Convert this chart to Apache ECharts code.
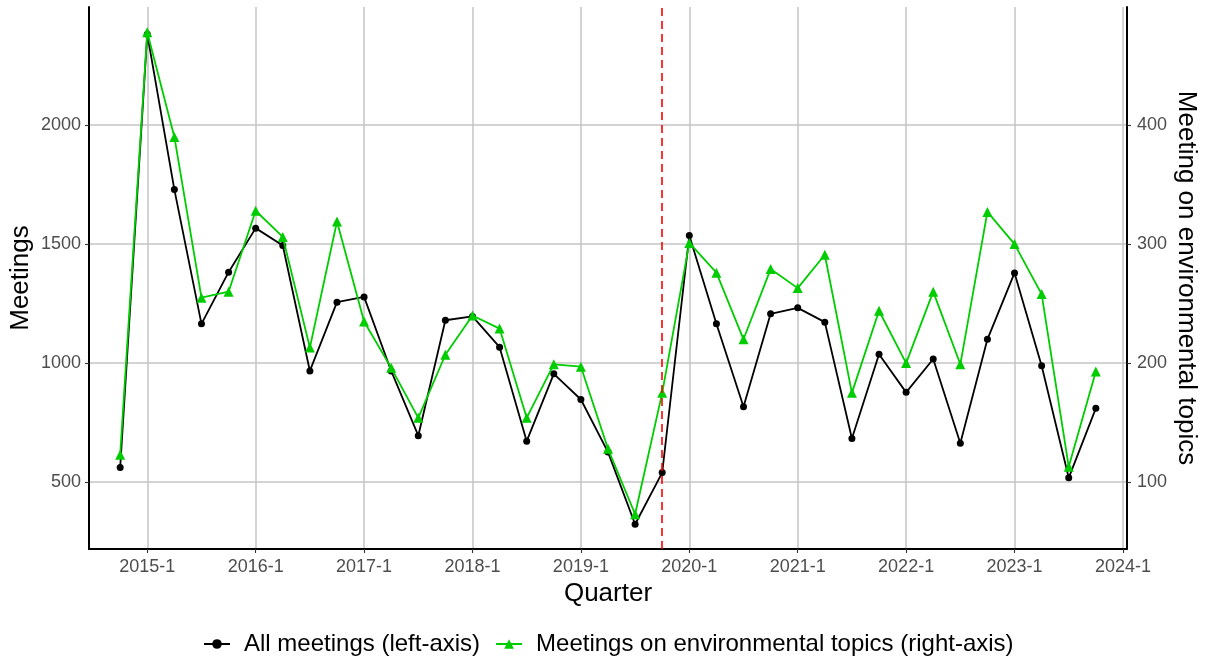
<!DOCTYPE html>
<html>
<head>
<meta charset="utf-8">
<script src="https://cdn.jsdelivr.net/npm/echarts@6/dist/echarts.min.js"></script>
<style>
  html, body { margin: 0; padding: 0; background: #ffffff; }
  #chart { width: 1209px; height: 662px; }
</style>
</head>
<body>
<div id="chart"></div>
<script>
// Quarterly meeting counts
const quarters = [
  '2014-4',
  '2015-1', '2015-2', '2015-3', '2015-4',
  '2016-1', '2016-2', '2016-3', '2016-4',
  '2017-1', '2017-2', '2017-3', '2017-4',
  '2018-1', '2018-2', '2018-3', '2018-4',
  '2019-1', '2019-2', '2019-3', '2019-4',
  '2020-1', '2020-2', '2020-3', '2020-4',
  '2021-1', '2021-2', '2021-3', '2021-4',
  '2022-1', '2022-2', '2022-3', '2022-4',
  '2023-1', '2023-2', '2023-3', '2023-4'
];

// All meetings (left axis)
const allMeetings = [
  561,
  2382, 1729, 1165, 1382,
  1567, 1494, 967, 1256,
  1278, 967, 695, 1180,
  1196, 1067, 672, 955,
  847, 626, 323, 540,
  1536, 1165, 817, 1207,
  1232, 1172, 683, 1037,
  877, 1017, 663, 1100,
  1379, 989, 518, 810
];

// Meetings on environmental topics (right axis)
const envMeetings = [
  123,
  478, 390, 255, 260,
  328, 306, 213, 319,
  235, 196, 154, 207,
  240, 229, 154, 199,
  197, 128, 73, 175,
  301, 276, 220, 279,
  263, 291, 175, 244,
  200, 260, 199, 327,
  300, 258, 113, 193
];

const xTickLabels = ['2015-1', '2016-1', '2017-1', '2018-1', '2019-1',
                     '2020-1', '2021-1', '2022-1', '2023-1', '2024-1'];
const leftTicks = [500, 1000, 1500, 2000];
const rightTicks = [100, 200, 300, 400];
const breakQuarter = '2019-4';

// quarter label -> position on the x axis (2014-4 = 0)
function quarterIndex(label) {
  const [y, q] = label.split('-').map(Number);
  return (y - 2014) * 4 + (q - 4);
}
function indexToLabel(v) {
  const n = Math.round(v) + 3;
  const y = 2014 + Math.floor(n / 4);
  const q = (n % 4) + 1;
  return y + '-' + q;
}

const LEFT_MIN = 219, LEFT_MAX = 2496;
const RATIO = 5; // left axis units per right axis unit

const FONT = 'Liberation Sans, Arial, Helvetica, sans-serif';
const GREEN = '#00cd00';

const chart = echarts.init(document.getElementById('chart'), null, { renderer: 'canvas' });

const tickStyle = { show: true, length: 4, lineStyle: { color: '#333333', width: 1.1 } };
const labelStyle = { color: '#4d4d4d', fontSize: 18, fontFamily: FONT };
const gridLine = { show: true, lineStyle: { color: '#c4c4c4', width: 1.5 } };
const titleStyle = { color: '#000000', fontSize: 26, fontFamily: FONT };

chart.setOption({
  animation: false,
  backgroundColor: '#ffffff',
  grid: { left: 89, right: 82, top: 7, bottom: 113, containLabel: false, outerBoundsMode: 'none' },
  legend: {
    top: 627,
    left: 198,
    itemWidth: 26,
    itemHeight: 12,
    itemGap: 15,
    textStyle: { color: '#000000', fontSize: 24, fontFamily: FONT, padding: [0, 0, 0, 9] },
    data: ['All meetings (left-axis)', 'Meetings on environmental topics (right-axis)']
  },
  xAxis: {
    type: 'value',
    min: -1.15,
    max: 37.15,
    name: 'Quarter',
    nameLocation: 'middle',
    nameGap: 32,
    nameMoveOverlap: false,
    nameTextStyle: titleStyle,
    axisLine: { show: true, onZero: false, lineStyle: { color: '#000000', width: 2 } },
    axisTick: Object.assign({ customValues: xTickLabels.map(quarterIndex) }, tickStyle),
    axisLabel: Object.assign({
      customValues: xTickLabels.map(quarterIndex),
      margin: 9,
      formatter: v => indexToLabel(v)
    }, labelStyle),
    splitLine: gridLine
  },
  yAxis: [
    {
      type: 'value',
      position: 'left',
      min: LEFT_MIN,
      max: LEFT_MAX,
      name: 'Meetings',
      nameLocation: 'middle',
      nameGap: 55,
      nameMoveOverlap: false,
      nameTextStyle: titleStyle,
      axisLine: { show: true, onZero: false, lineStyle: { color: '#000000', width: 2 } },
      axisTick: Object.assign({ customValues: leftTicks }, tickStyle),
      axisLabel: Object.assign({ customValues: leftTicks, margin: 8, formatter: v => String(v) }, labelStyle),
      splitLine: gridLine
    },
    {
      type: 'value',
      position: 'right',
      min: LEFT_MIN / RATIO,
      max: LEFT_MAX / RATIO,
      name: 'Meeting on environmental topics',
      nameLocation: 'middle',
      nameRotate: -90,
      nameGap: 46,
      nameMoveOverlap: false,
      nameTextStyle: titleStyle,
      axisLine: { show: true, onZero: false, lineStyle: { color: '#000000', width: 2 } },
      axisTick: Object.assign({ customValues: rightTicks }, tickStyle),
      axisLabel: Object.assign({ customValues: rightTicks, margin: 10, formatter: v => String(v) }, labelStyle),
      splitLine: { show: false }
    }
  ],
  series: [
    {
      name: 'All meetings (left-axis)',
      type: 'line',
      yAxisIndex: 0,
      data: quarters.map((q, i) => [quarterIndex(q), allMeetings[i]]),
      symbol: 'circle',
      symbolSize: 7,
      lineStyle: { color: '#000000', width: 1.8 },
      itemStyle: { color: '#000000' },
      z: 3,
      markLine: {
        silent: true,
        symbol: ['none', 'none'],
        label: { show: false },
        lineStyle: { color: '#ff0000', type: [8, 5], width: 1.6 },
        data: [{ xAxis: quarterIndex(breakQuarter) }]
      }
    },
    {
      name: 'Meetings on environmental topics (right-axis)',
      type: 'line',
      yAxisIndex: 1,
      data: quarters.map((q, i) => [quarterIndex(q), envMeetings[i]]),
      symbol: 'triangle',
      symbolSize: 10,
      lineStyle: { color: GREEN, width: 1.8 },
      itemStyle: { color: GREEN },
      z: 4
    }
  ]
});
</script>
</body>
</html>
